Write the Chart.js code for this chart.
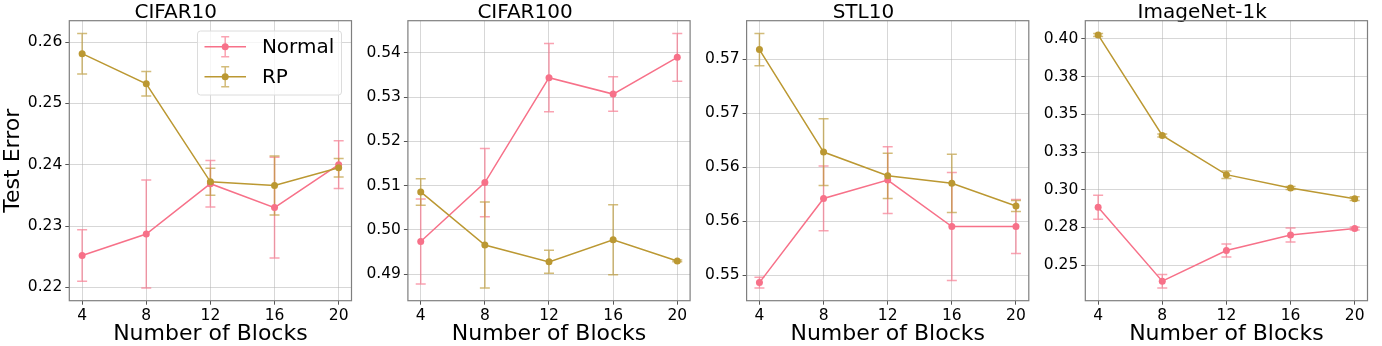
<!DOCTYPE html>
<html>
<head>
<meta charset="utf-8">
<script src="https://cdn.jsdelivr.net/npm/chart.js@4.4.0/dist/chart.umd.min.js"></script>
<style>
  body { margin: 0; background: #fff; }
  #wrap { position: relative; width: 1382px; height: 346px; }
  canvas { position: absolute; top: 0; }
</style>
</head>
<body>
<div id="wrap"></div>
<script>
// data
const blocks = [4, 8, 12, 16, 20];
const titles = ["CIFAR10", "CIFAR100", "STL10", "ImageNet-1k"];
const seriesNames = ["Normal", "RP"];

const cifar10Normal = [0.2252, 0.2287, 0.2369, 0.2330, 0.2400];
const cifar10NormalStd = [0.0042, 0.0088, 0.0038, 0.0082, 0.0039];
const cifar10RP = [0.2581, 0.2532, 0.2372, 0.2366, 0.2395];
const cifar10RPStd = [0.0033, 0.0020, 0.0022, 0.0048, 0.0015];

const cifar100Normal = [0.4974, 0.5107, 0.5344, 0.5307, 0.5390];
const cifar100NormalStd = [0.0096, 0.0077, 0.0077, 0.0039, 0.0054];
const cifar100RP = [0.5086, 0.4966, 0.4928, 0.4978, 0.4930];
const cifar100RPStd = [0.0030, 0.0097, 0.0026, 0.0079, 0.0002];

const stl10Normal = [0.5493, 0.5571, 0.5588, 0.5545, 0.5545];
const stl10NormalStd = [0.0005, 0.0030, 0.0031, 0.0050, 0.0025];
const stl10RP = [0.5709, 0.5614, 0.5592, 0.5585, 0.5564];
const stl10RPStd = [0.0015, 0.0031, 0.0021, 0.0027, 0.0005];

const imagenetNormal = [0.2884, 0.2394, 0.2597, 0.2700, 0.2743];
const imagenetNormalStd = [0.0079, 0.0045, 0.0043, 0.0046, 0.0010];
const imagenetRP = [0.4026, 0.3360, 0.3100, 0.3011, 0.2941];
const imagenetRPStd = [0.0010, 0.0010, 0.0025, 0.0010, 0.0012];

// y tick values and the labels printed next to them
const cifar10Ticks = [0.22, 0.23, 0.24, 0.25, 0.26];
const cifar10Labels = ["0.22", "0.23", "0.24", "0.25", "0.26"];
const cifar100Ticks = [0.49, 0.50, 0.51, 0.52, 0.53, 0.54];
const cifar100Labels = ["0.49", "0.50", "0.51", "0.52", "0.53", "0.54"];
const stl10Ticks = [0.550, 0.555, 0.560, 0.565, 0.570];
const stl10Labels = ["0.55", "0.56", "0.56", "0.57", "0.57"];
const imagenetTicks = [0.250, 0.275, 0.300, 0.325, 0.350, 0.375, 0.400];
const imagenetLabels = ["0.25", "0.28", "0.30", "0.33", "0.35", "0.38", "0.40"];

const NORMAL_COLOR = "#f77189";
const RP_COLOR = "#bb9832";

Chart.defaults.font.family = "'DejaVu Sans', sans-serif";
Chart.defaults.color = "#000";

// error bars drawn with the y scale of each chart
const errorBars = {
    id: "errorBars",
    beforeDatasetsDraw(chart) {
        const ctx = chart.ctx;
        const ys = chart.scales.y;
        chart.data.datasets.forEach((ds, i) => {
            const meta = chart.getDatasetMeta(i);
            ctx.save();
            ctx.strokeStyle = ds.borderColor;
            ctx.globalAlpha = 0.65;
            ctx.lineWidth = 1.5;
            meta.data.forEach((pt, j) => {
                const v = ds.data[j].y;
                const top = ys.getPixelForValue(v + ds.err[j]);
                const bot = ys.getPixelForValue(v - ds.err[j]);
                ctx.beginPath();
                ctx.moveTo(pt.x, top);
                ctx.lineTo(pt.x, bot);
                ctx.moveTo(pt.x - 5, top);
                ctx.lineTo(pt.x + 5, top);
                ctx.moveTo(pt.x - 5, bot);
                ctx.lineTo(pt.x + 5, bot);
                ctx.stroke();
            });
            ctx.restore();
        });
    }
};

// full box around the plot area
const frame = {
    id: "frame",
    afterDatasetsDraw(chart) {
        const a = chart.chartArea;
        const ctx = chart.ctx;
        ctx.save();
        ctx.strokeStyle = "#7f7f7f";
        ctx.lineWidth = 1.2;
        ctx.strokeRect(a.left, a.top, a.right - a.left, a.bottom - a.top);
        ctx.restore();
    }
};

// matplotlib style legend inside the first panel
const boxLegend = {
    id: "boxLegend",
    afterDraw(chart) {
        const a = chart.chartArea;
        const ctx = chart.ctx;
        const w = 144, h = 64;
        const left = a.right - 10 - w;
        const top = a.top + 10.3;
        ctx.save();
        ctx.beginPath();
        ctx.roundRect(left, top, w, h, 3);
        ctx.fillStyle = "rgba(255,255,255,0.8)";
        ctx.fill();
        ctx.strokeStyle = "#dcdcdc";
        ctx.lineWidth = 1;
        ctx.stroke();
        chart.data.datasets.forEach((ds, i) => {
            const cy = top + 15.7 + 30 * i;
            const cx = left + 27.7;
            ctx.strokeStyle = ds.borderColor;
            ctx.lineWidth = 1.5;
            ctx.globalAlpha = 1;
            ctx.beginPath();
            ctx.moveTo(left + 7, cy);
            ctx.lineTo(left + 48.5, cy);
            ctx.stroke();
            ctx.globalAlpha = 0.65;
            ctx.beginPath();
            ctx.moveTo(cx, cy - 10);
            ctx.lineTo(cx, cy + 10);
            ctx.moveTo(cx - 4, cy - 10);
            ctx.lineTo(cx + 4, cy - 10);
            ctx.moveTo(cx - 4, cy + 10);
            ctx.lineTo(cx + 4, cy + 10);
            ctx.stroke();
            ctx.globalAlpha = 1;
            ctx.fillStyle = ds.borderColor;
            ctx.beginPath();
            ctx.arc(cx, cy, 3.5, 0, Math.PI * 2);
            ctx.fill();
            ctx.fillStyle = "#000";
            ctx.font = "20px 'DejaVu Sans'";
            ctx.textBaseline = "middle";
            ctx.fillText(ds.label, left + 64.4, cy + 1);
        });
        ctx.restore();
    }
};

function makeDataset(label, values, std, color, order) {
    return {
        label: label,
        data: values.map((v, i) => ({ x: blocks[i], y: v })),
        err: std,
        borderColor: color,
        backgroundColor: color,
        borderWidth: 1.5,
        pointRadius: 3.5,
        pointBorderWidth: 0,
        pointBackgroundColor: color,
        tension: 0,
        order: order
    };
}

function yRange(series) {
    let lo = Infinity, hi = -Infinity;
    series.forEach(s => {
        s.values.forEach((v, i) => {
            lo = Math.min(lo, v - s.std[i]);
            hi = Math.max(hi, v + s.std[i]);
        });
    });
    const pad = (hi - lo) * 0.05;
    return [lo - pad, hi + pad];
}

const panels = [
    { normal: cifar10Normal, normalStd: cifar10NormalStd, rp: cifar10RP, rpStd: cifar10RPStd,
      ticks: cifar10Ticks, labels: cifar10Labels },
    { normal: cifar100Normal, normalStd: cifar100NormalStd, rp: cifar100RP, rpStd: cifar100RPStd,
      ticks: cifar100Ticks, labels: cifar100Labels },
    { normal: stl10Normal, normalStd: stl10NormalStd, rp: stl10RP, rpStd: stl10RPStd,
      ticks: stl10Ticks, labels: stl10Labels },
    { normal: imagenetNormal, normalStd: imagenetNormalStd, rp: imagenetRP, rpStd: imagenetRPStd,
      ticks: imagenetTicks, labels: imagenetLabels }
];

// layout of the four panels (pixels)
const canvasLeft = [0, 360, 698, 1037];
const canvasRight = [360, 698, 1037, 1382];
const plotLeft = [69.3, 407.9, 746.6, 1085.3];
const plotWidth = 282.2;
const plotBottom = 300.7;

const wrap = document.getElementById("wrap");

panels.forEach((p, k) => {
    const canvas = document.createElement("canvas");
    const cw = canvasRight[k] - canvasLeft[k];
    canvas.width = cw;
    canvas.height = 346;
    canvas.style.left = canvasLeft[k] + "px";
    canvas.style.width = cw + "px";
    canvas.style.height = "346px";
    wrap.appendChild(canvas);

    const yAxisWidth = plotLeft[k] - canvasLeft[k];
    const rightPad = canvasRight[k] - (plotLeft[k] + plotWidth);
    const range = yRange([{ values: p.normal, std: p.normalStd }, { values: p.rp, std: p.rpStd }]);

    const pluginList = [errorBars, frame];
    if (k === 0) pluginList.push(boxLegend);

    new Chart(canvas.getContext("2d"), {
        type: "line",
        data: {
            datasets: [
                makeDataset(seriesNames[0], p.normal, p.normalStd, NORMAL_COLOR, 1),
                makeDataset(seriesNames[1], p.rp, p.rpStd, RP_COLOR, 0)
            ]
        },
        plugins: pluginList,
        options: {
            responsive: false,
            animation: false,
            devicePixelRatio: 1,
            layout: { padding: { left: 0, right: rightPad, top: 0, bottom: 0 } },
            plugins: {
                legend: { display: false },
                tooltip: { enabled: false },
                title: {
                    display: true,
                    text: titles[k],
                    color: "#000",
                    font: { size: 20, weight: "normal", lineHeight: 1 },
                    padding: { top: 2.5, bottom: -1.8 }
                }
            },
            scales: {
                x: {
                    type: "linear",
                    min: 3.2,
                    max: 20.8,
                    afterBuildTicks: (scale) => { scale.ticks = blocks.map(v => ({ value: v })); },
                    afterFit: (scale) => { scale.height = 346 - plotBottom; },
                    grid: { color: "rgba(176,176,176,0.5)", lineWidth: 1, tickLength: 4, tickColor: "#555" },
                    border: { display: false },
                    ticks: { font: { size: 15.5 }, padding: 2, maxRotation: 0, autoSkip: false,
                             callback: (v) => String(v) },
                    title: { display: true, text: "Number of Blocks",
                             font: { size: 22, lineHeight: 1.1 }, padding: { top: 0, bottom: -0.5 } }
                },
                y: {
                    type: "linear",
                    min: range[0],
                    max: range[1],
                    afterBuildTicks: (scale) => { scale.ticks = p.ticks.map(v => ({ value: v })); },
                    afterFit: (scale) => { scale.width = yAxisWidth; },
                    grid: { color: "rgba(176,176,176,0.5)", lineWidth: 1, tickLength: 4, tickColor: "#555" },
                    border: { display: false },
                    ticks: { font: { size: 15.5 }, padding: 3, autoSkip: false,
                             callback: (v, i) => p.labels[i] },
                    title: { display: k === 0, text: "Test Error",
                             font: { size: 22, lineHeight: 1.2 }, padding: { top: 0, bottom: 0 } }
                }
            }
        }
    });
});
</script>
</body>
</html>
